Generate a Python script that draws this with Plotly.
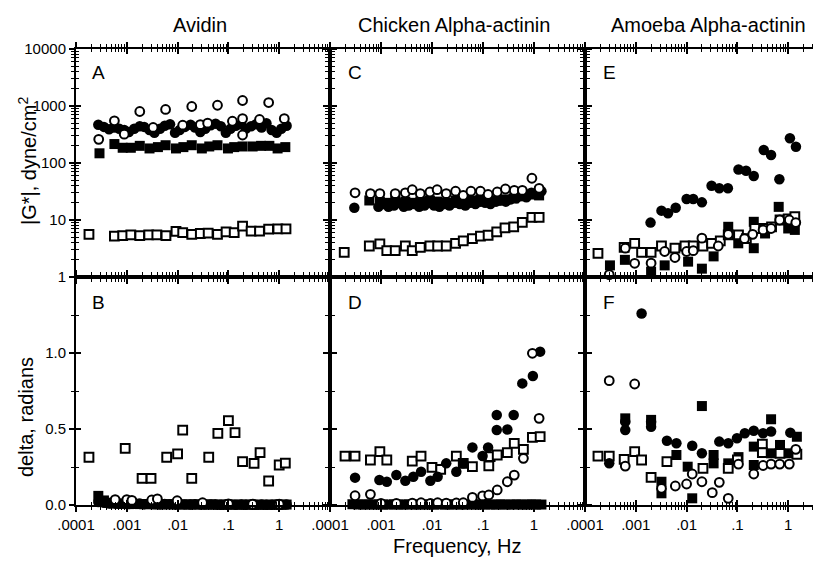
import plotly.graph_objects as go

# ---------------- data ----------------
# shared dense frequency grid (Hz) for the overlapping "blob" series
grid_f = [2.75e-4, 3.55e-4, 4.47e-4, 5.6e-4, 7.1e-4, 8.9e-4, 1.1e-3, 1.4e-3, 1.8e-3, 2.2e-3,
          2.8e-3, 3.5e-3, 4.5e-3, 5.6e-3, 7.1e-3, 8.9e-3, 0.011, 0.014, 0.018, 0.022,
          0.028, 0.035, 0.045, 0.056, 0.071, 0.089, 0.11, 0.14, 0.18, 0.22,
          0.28, 0.35, 0.45, 0.56, 0.71, 0.89, 1.1, 1.4]

# Panel A (Avidin, |G*|)
A_fc_f = grid_f
A_fc_v = [470, 430, 390, 420, 400, 380, 350, 400, 440, 430, 380, 340, 400, 450, 480, 340, 380, 430, 470, 420,
          350, 400, 460, 490, 440, 340, 400, 450, 480, 400, 440, 480, 420, 500, 380, 340, 400, 450]
A_fs_f = [2.9e-4, 5.7e-4, 8.3e-4, 1.2e-3, 1.8e-3, 2.8e-3, 4.1e-3, 5.8e-3, 9.3e-3, 0.013, 0.019,
          0.030, 0.042, 0.061, 0.098, 0.13, 0.19, 0.30, 0.44, 0.64, 0.93, 1.32]
A_fs_v = [148, 215, 185, 185, 200, 180, 190, 205, 180, 190, 205, 180, 195, 205, 180, 190, 195, 195, 200, 200, 180, 190]
A_os_f = [1.8e-4, 5.7e-4, 8.3e-4, 1.2e-3, 1.8e-3, 2.7e-3, 3.9e-3, 5.9e-3, 9.3e-3, 0.0126, 0.019,
          0.028, 0.04, 0.061, 0.09, 0.13, 0.19, 0.28, 0.41, 0.62, 0.94, 1.36]
A_os_v = [5.6, 5.2, 5.3, 5.5, 5.3, 5.5, 5.5, 5.3, 6.3, 6.0, 5.6, 5.8, 5.9, 5.6, 6.2, 6.0, 7.8, 6.4, 6.4, 6.9, 7.0, 7.0]
A_oc_f = [2.8e-4, 5.7e-4, 8.9e-4, 1.8e-3, 3.3e-3, 5.8e-3, 0.0126, 0.019, 0.028, 0.039, 0.061, 0.12,
          0.19, 0.19, 0.19, 0.41, 0.62, 1.26]
A_oc_v = [260, 550, 320, 800, 420, 870, 460, 980, 470, 500, 1030, 540, 1250, 600, 310, 580, 1150, 600]

# Panel B (Avidin, delta)
B_fc_f = grid_f
B_fc_v = [0.02, 0.015, 0.01, 0.012, 0.008, 0.01, 0.006, 0.008, 0.01, 0.005, 0.008, 0.006, 0.004, 0.006,
          0.005, 0.004, 0.006, 0.004, 0.003, 0.005, 0.004, 0.003, 0.004, 0.003, 0.002, 0.003, 0.004,
          0.002, 0.003, 0.002, 0.003, 0.002, 0.003, 0.002, 0.002, 0.003, 0.002, 0.003]
B_fs_f = grid_f
B_fs_v = [0.06, 0.03, 0.015, 0.01, 0.008, 0.01, 0.006, 0.008, 0.006, 0.005, 0.006, 0.004, 0.005, 0.004,
          0.005, 0.004, 0.003, 0.004, 0.003, 0.004, 0.003, 0.003, 0.004, 0.003, 0.002, 0.003, 0.003,
          0.002, 0.003, 0.002, 0.003, 0.002, 0.002, 0.002, 0.002, 0.003, 0.002, 0.003]
B_os_f = [1.8e-4, 9.3e-4, 2.0e-3, 3.0e-3, 6.1e-3, 0.01, 0.0126, 0.019, 0.041, 0.062, 0.10, 0.135,
          0.19, 0.32, 0.42, 0.62, 1.0, 1.32]
B_os_v = [0.314, 0.373, 0.175, 0.175, 0.314, 0.336, 0.493, 0.175, 0.314, 0.471, 0.555, 0.476,
          0.285, 0.274, 0.344, 0.158, 0.263, 0.276]
B_oc_f = [5.9e-4, 1.0e-3, 1.26e-3, 3.1e-3, 4.0e-3, 9.8e-3, 0.031, 0.1, 0.3, 1.0]
B_oc_v = [0.035, 0.035, 0.03, 0.033, 0.04, 0.028, 0.015, 0.008, 0.005, 0.005]

# Panel C (Chicken alpha-actinin, |G*|)
C_fc_f = [3.0e-4, 8.9e-4, 1.1e-3, 1.4e-3, 1.8e-3, 2.2e-3, 2.8e-3, 3.5e-3, 4.5e-3, 5.6e-3, 7.1e-3, 8.9e-3,
          0.011, 0.014, 0.018, 0.022, 0.028, 0.035, 0.045, 0.056, 0.071, 0.089, 0.11, 0.14, 0.18,
          0.22, 0.28, 0.35, 0.45, 0.56, 0.71, 0.89, 1.1, 1.4]
C_fc_v = [16.4, 17, 19, 17, 18, 20, 17, 18, 19, 17, 18, 20, 18, 17, 19, 18, 20, 19, 18, 20, 19, 21, 20,
          19, 21, 22, 21, 23, 24, 27, 25, 30, 28, 32]
C_fs_f = [5.9e-4, 9.5e-4, 1.3e-3, 1.9e-3, 3.0e-3, 4.1e-3, 5.9e-3, 9.1e-3, 0.0129, 0.019, 0.029,
          0.041, 0.062, 0.089, 0.126, 0.186, 0.27, 0.40, 0.59, 0.91, 1.26]
C_fs_v = [22, 21, 20, 22, 21, 20, 21, 22, 21, 20, 22, 21, 22, 23, 22, 22, 23, 24, 26, 28, 27]
C_os_f = [1.9e-4, 5.9e-4, 9.5e-4, 1.3e-3, 1.9e-3, 3.0e-3, 4.1e-3, 5.9e-3, 9.1e-3, 0.0129, 0.019,
          0.029, 0.041, 0.062, 0.089, 0.126, 0.186, 0.27, 0.40, 0.59, 0.91, 1.26]
C_os_v = [2.7, 3.5, 3.8, 2.9, 2.9, 3.5, 2.9, 3.3, 3.5, 3.5, 3.5, 3.9, 4.3, 4.7, 5.2, 5.4, 6.2, 7.3,
          7.6, 9.1, 11.1, 11.1]
C_oc_f = [3.1e-4, 6.2e-4, 9.5e-4, 1.9e-3, 3.0e-3, 4.1e-3, 5.9e-3, 9.1e-3, 0.0126, 0.019, 0.029,
          0.041, 0.058, 0.089, 0.126, 0.19, 0.275, 0.41, 0.59, 0.91, 1.26]
C_oc_v = [30, 29, 29, 29, 30, 34, 29, 31, 34, 29, 32, 27, 32, 32, 28, 31, 35, 33, 33, 54, 36]

# Panel D (Chicken alpha-actinin, delta)
D_fc_f = [3.1e-4, 9.3e-4, 1.3e-3, 2.0e-3, 3.0e-3, 4.3e-3, 6.1e-3, 9.3e-3, 0.0129, 0.019, 0.030,
          0.041, 0.062, 0.098, 0.126, 0.186, 0.186, 0.30, 0.40, 0.59, 0.95, 1.32]
D_fc_v = [0.18, 0.164, 0.153, 0.197, 0.16, 0.186, 0.219, 0.16, 0.186, 0.274, 0.219, 0.274, 0.379,
          0.322, 0.379, 0.592, 0.493, 0.497, 0.592, 0.80, 0.849, 1.009]
D_fs_f = grid_f
D_fs_v = [0.005, 0.004, 0.003, 0.004, 0.003, 0.004, 0.003, 0.003, 0.004, 0.003, 0.003, 0.004, 0.003,
          0.003, 0.004, 0.003, 0.003, 0.004, 0.003, 0.003, 0.004, 0.003, 0.003, 0.004, 0.003, 0.003,
          0.004, 0.003, 0.003, 0.004, 0.003, 0.003, 0.004, 0.003, 0.003, 0.004, 0.003, 0.003]
D_os_f = [1.97e-4, 3.1e-4, 6.2e-4, 9.5e-4, 1.3e-3, 4.1e-3, 6.1e-3, 0.01, 0.0148, 0.030, 0.041,
          0.062, 0.13, 0.138, 0.19, 0.30, 0.41, 0.62, 0.93, 1.32]
D_os_v = [0.322, 0.322, 0.296, 0.351, 0.296, 0.289, 0.322, 0.248, 0.235, 0.322, 0.274, 0.252,
          0.257, 0.318, 0.329, 0.344, 0.406, 0.366, 0.445, 0.45]
D_oc_f = [3.1e-4, 6.2e-4, 1.0e-3, 2.0e-3, 4.1e-3, 6.1e-3, 9.3e-3, 0.0129, 0.019, 0.03, 0.041,
          0.062, 0.098, 0.13, 0.19, 0.30, 0.41, 0.62, 0.93, 1.26]
D_oc_v = [0.061, 0.07, 0.011, 0.011, 0.012, 0.015, 0.01, 0.015, 0.012, 0.013, 0.015, 0.05, 0.06,
          0.066, 0.099, 0.153, 0.197, 0.307, 0.998, 0.57]

# Panel E (Amoeba alpha-actinin, |G*|)
E_fc_f = [1.95e-3, 3.2e-3, 4.3e-3, 6.1e-3, 0.01, 0.0135, 0.020, 0.031, 0.044, 0.065, 0.105, 0.148,
          0.21, 0.33, 0.46, 0.67, 1.08, 1.42]
E_fc_v = [9.0, 14.6, 13.1, 16.4, 23.4, 23.4, 20.4, 40, 36, 36, 77, 73, 59, 169, 138, 52, 271, 193]
E_fs_f = [3.1e-4, 6.1e-4, 2.0e-3, 3.7e-3, 0.0107, 0.02, 0.034, 0.066, 0.104, 0.21, 0.21, 0.35,
          0.65, 1.0, 1.35]
E_fs_v = [1.6, 2.0, 1.24, 1.6, 1.86, 1.4, 2.3, 7.6, 3.9, 3.2, 9.3, 5.8, 17, 7.1, 6.7]
E_os_f = [1.8e-4, 5.9e-4, 9.5e-4, 1.3e-3, 2.0e-3, 3.2e-3, 5.9e-3, 9.3e-3, 0.0135, 0.021, 0.031,
          0.046, 0.066, 0.105, 0.15, 0.22, 0.34, 0.47, 0.69, 1.0, 1.35]
E_os_v = [2.6, 3.3, 3.9, 2.7, 2.7, 3.5, 3.2, 3.5, 3.5, 3.5, 3.9, 4.3, 5.5, 5.5, 4.7, 7.1, 7.1, 7.6,
          10, 10.5, 11.4]
E_oc_f = [3.0e-4, 6.2e-4, 9.5e-4, 2.0e-3, 3.7e-3, 5.9e-3, 0.01, 0.0135, 0.020, 0.042, 0.066, 0.138,
          0.20, 0.32, 0.46, 0.68, 1.05, 1.41]
E_oc_v = [1.1, 3.2, 1.74, 1.75, 2.8, 2.2, 2.8, 2.9, 4.8, 3.5, 5.6, 4.7, 5.6, 6.7, 7.1, 10, 10, 9.0]

# Panel F (Amoeba alpha-actinin, delta)
F_fc_f = [3.0e-4, 6.2e-4, 6.2e-4, 1.3e-3, 2.0e-3, 2.0e-3, 4.1e-3, 6.3e-3, 0.0129, 0.020, 0.044,
          0.066, 0.098, 0.14, 0.21, 0.32, 0.46, 1.1]
F_fc_v = [0.274, 0.548, 0.493, 1.26, 0.548, 0.515, 0.423, 0.406, 0.39, 0.34, 0.417, 0.406, 0.439,
          0.472, 0.489, 0.472, 0.483, 0.476]
F_fs_f = [6.2e-4, 2.0e-3, 3.2e-3, 3.2e-3, 6.3e-3, 0.0105, 0.0129, 0.020, 0.034, 0.034, 0.066,
          0.105, 0.21, 0.21, 0.46, 0.46, 0.69, 1.0, 1.48]
F_fs_v = [0.57, 0.56, 0.153, 0.077, 0.329, 0.252, 0.044, 0.651, 0.329, 0.274, 0.274, 0.315, 0.384,
          0.263, 0.564, 0.34, 0.395, 0.34, 0.449]
F_os_f = [1.8e-4, 3.0e-4, 5.9e-4, 9.5e-4, 1.3e-3, 2.0e-3, 4.1e-3, 0.021, 0.066, 0.10, 0.31, 0.31,
          0.69, 1.48]
F_os_v = [0.322, 0.322, 0.30, 0.351, 0.296, 0.182, 0.285, 0.241, 0.241, 0.296, 0.401, 0.345, 0.34, 0.334]
F_oc_f = [3.0e-4, 9.5e-4, 6.2e-4, 3.2e-3, 6.0e-3, 0.01, 0.0129, 0.020, 0.032, 0.044, 0.066, 0.105,
          0.21, 0.32, 0.46, 0.68, 1.05, 1.41]
F_oc_v = [0.818, 0.796, 0.256, 0.11, 0.125, 0.138, 0.204, 0.153, 0.081, 0.149, 0.044, 0.269, 0.204,
          0.26, 0.269, 0.269, 0.269, 0.366]

col_titles = ["Avidin", "Chicken Alpha-actinin", "Amoeba Alpha-actinin"]
panel_letters = [["A", "C", "E"], ["B", "D", "F"]]
x_tickvals = [1e-4, 1e-3, 1e-2, 1e-1, 1]
x_ticktext = [".0001", ".001", ".01", ".1", "1"]
g_tickvals = [1, 10, 100, 1000, 10000]
g_ticktext = ["1", "10", "100", "1000", "10000"]
d_tickvals = [0.0, 0.5, 1.0]
d_ticktext = ["0.0", "0.5", "1.0"]
y_title_top = "|G*|, dyne/cm<sup>2</sup>"
y_title_bot = "delta, radians"
x_title = "Frequency, Hz"

panels = {
    (0, 0): [(A_fs_f, A_fs_v, "fs"), (A_os_f, A_os_v, "os"), (A_fc_f, A_fc_v, "fc"), (A_oc_f, A_oc_v, "oc")],
    (1, 0): [(B_fs_f, B_fs_v, "fs"), (B_os_f, B_os_v, "os"), (B_fc_f, B_fc_v, "fc"), (B_oc_f, B_oc_v, "oc")],
    (0, 1): [(C_fs_f, C_fs_v, "fs"), (C_os_f, C_os_v, "os"), (C_fc_f, C_fc_v, "fc"), (C_oc_f, C_oc_v, "oc")],
    (1, 1): [(D_fs_f, D_fs_v, "fs"), (D_os_f, D_os_v, "os"), (D_fc_f, D_fc_v, "fc"), (D_oc_f, D_oc_v, "oc")],
    (0, 2): [(E_fs_f, E_fs_v, "fs"), (E_os_f, E_os_v, "os"), (E_fc_f, E_fc_v, "fc"), (E_oc_f, E_oc_v, "oc")],
    (1, 2): [(F_fs_f, F_fs_v, "fs"), (F_os_f, F_os_v, "os"), (F_fc_f, F_fc_v, "fc"), (F_oc_f, F_oc_v, "oc")],
}

# ---------------- layout geometry ----------------
W, H = 813, 561
ML, MR, MT, MB = 76, 0, 49, 56
PW = W - ML - MR
PH = H - MT - MB
col_px = [(0, 254), (254, 509), (509, 737)]
xdom = [[a / PW, b / PW] for a, b in col_px]
ydom = [[0.5, 1.0], [0.0, 0.5]]
xrng = [[-4, 1], [-4, 1], [-4, 0.488]]

FONT = "Liberation Sans, Arial, sans-serif"

styles = {
    "fc": dict(symbol="circle", size=10.5, color="black", line=dict(width=0)),
    "fs": dict(symbol="square", size=10, color="black", line=dict(width=0)),
    "oc": dict(symbol="circle", size=8.8, color="white", line=dict(width=2, color="black")),
    "os": dict(symbol="square", size=8.8, color="white", line=dict(width=2, color="black")),
}

x_minor = [m * 10 ** e for e in range(-4, 1) for m in range(2, 10)]
g_minor = [m * 10 ** e for e in range(0, 4) for m in range(2, 10)]
d_minor = [0.25, 0.75, 1.25]

fig = go.Figure()
layout = dict(
    width=W, height=H, margin=dict(l=ML, r=MR, t=MT, b=MB),
    paper_bgcolor="white", plot_bgcolor="white", showlegend=False,
    font=dict(family=FONT, color="black"),
)

for r in range(2):
    for c in range(3):
        i = r * 3 + c + 1
        xs, ys = ("x" if i == 1 else f"x{i}"), ("y" if i == 1 else f"y{i}")
        for f, v, st in panels[(r, c)]:
            fig.add_trace(go.Scatter(x=f, y=v, mode="markers", marker=styles[st],
                                     xaxis=xs, yaxis=ys, cliponaxis=False, hoverinfo="skip"))
        j = i + 6
        # empty trace that registers the overlay axes used for the crossing ticks
        fig.add_trace(go.Scatter(x=[], y=[], mode="markers", xaxis=f"x{j}", yaxis=f"y{j}",
                                 hoverinfo="skip"))

        mir = "allticks"
        ymir = "allticks" if c < 2 else False
        common_x = dict(type="log", range=xrng[c], tickmode="array", tickvals=x_tickvals,
                        showgrid=False, zeroline=False)
        if r == 0:
            common_y = dict(type="log", range=[0, 4], tickmode="array", tickvals=g_tickvals,
                            showgrid=False, zeroline=False)
            ymin = g_minor
        else:
            common_y = dict(type="linear", range=[0, 1.5], tickmode="array", tickvals=d_tickvals,
                            showgrid=False, zeroline=False)
            ymin = d_minor

        layout[f"xaxis{i}"] = dict(
            **common_x, domain=xdom[c], anchor=ys,
            showline=True, linecolor="black", linewidth=2, mirror=mir,
            ticks="outside", ticklen=5, tickwidth=1.6, tickcolor="black",
            minor=dict(ticks="outside", ticklen=3, tickwidth=1.2, tickcolor="black",
                       tickmode="array", tickvals=x_minor),
            showticklabels=(r == 1), ticktext=x_ticktext,
            tickfont=dict(size=15, family=FONT, color="black"),
        )
        layout[f"yaxis{i}"] = dict(
            **common_y, domain=ydom[r], anchor=xs,
            showline=True, linecolor="black", linewidth=2, mirror=ymir,
            ticks="outside", ticklen=5, tickwidth=1.6, tickcolor="black",
            minor=dict(ticks="outside", ticklen=3, tickwidth=1.2, tickcolor="black",
                       tickmode="array", tickvals=ymin),
            showticklabels=(c == 0),
            ticktext=(g_ticktext if r == 0 else d_ticktext),
            tickfont=dict(size=15, family=FONT, color="black"),
        )
        # overlay axes: inward ticks, so ticks cross the frame lines
        layout[f"xaxis{j}"] = dict(
            **common_x, overlaying=xs, anchor=f"y{j}",
            showline=False, mirror=mir, ticks="inside", ticklen=5, tickwidth=1.6,
            tickcolor="black", showticklabels=False,
            minor=dict(ticks="inside", ticklen=3, tickwidth=1.2, tickcolor="black",
                       tickmode="array", tickvals=x_minor),
        )
        layout[f"yaxis{j}"] = dict(
            **common_y, overlaying=ys, anchor=f"x{j}",
            showline=False, mirror=ymir, ticks="inside", ticklen=5, tickwidth=1.6,
            tickcolor="black", showticklabels=False,
            minor=dict(ticks="inside", ticklen=3, tickwidth=1.2, tickcolor="black",
                       tickmode="array", tickvals=ymin),
        )

layout["xaxis"] = layout.pop("xaxis1")
layout["yaxis"] = layout.pop("yaxis1")
fig.update_layout(**layout)

# ---------------- text ----------------
def px_x(p):
    return (p - ML) / PW

def px_y(p):
    return (MT + PH - p) / PH

title_x = [200, 454, 708]
for c, t in enumerate(col_titles):
    fig.add_annotation(text=t, x=px_x(title_x[c]), y=px_y(25), xref="paper", yref="paper",
                       showarrow=False, xanchor="center", yanchor="middle",
                       font=dict(size=20, family=FONT, color="black"))

letter_x = [98, 355, 609]
letter_y = [72, 302]
for r in range(2):
    for c in range(3):
        fig.add_annotation(text=panel_letters[r][c], x=px_x(letter_x[c]), y=px_y(letter_y[r]),
                           xref="paper", yref="paper", showarrow=False,
                           xanchor="center", yanchor="middle",
                           font=dict(size=19, family=FONT, color="black"))

fig.add_annotation(text=y_title_top, x=px_x(27), y=px_y(161), xref="paper", yref="paper",
                   showarrow=False, textangle=-90, xanchor="center", yanchor="middle",
                   font=dict(size=20, family=FONT, color="black"))
fig.add_annotation(text=y_title_bot, x=px_x(26), y=px_y(417), xref="paper", yref="paper",
                   showarrow=False, textangle=-90, xanchor="center", yanchor="middle",
                   font=dict(size=20, family=FONT, color="black"))
fig.add_annotation(text=x_title, x=px_x(457), y=px_y(546), xref="paper", yref="paper",
                   showarrow=False, xanchor="center", yanchor="middle",
                   font=dict(size=20, family=FONT, color="black"))

fig.write_html("out.html", config={"displayModeBar": False},
               post_script="document.body.style.margin='0';document.body.style.overflow='hidden';")
